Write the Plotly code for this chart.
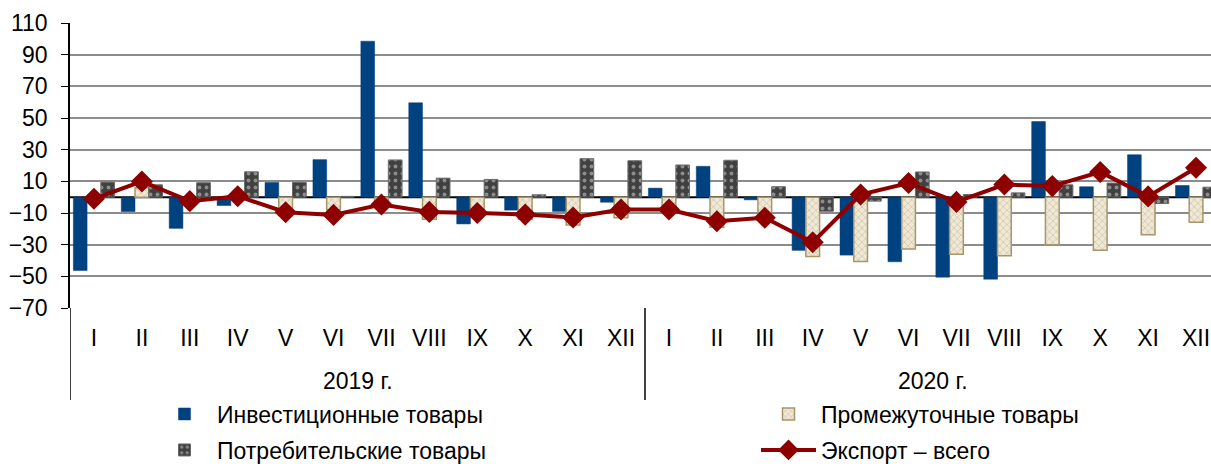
import plotly.graph_objects as go

months = ["I", "II", "III", "IV", "V", "VI", "VII", "VIII", "IX", "X", "XI", "XII"]
years = ["2019 г.", "2020 г."]

investment = [-46.3, -9.1, -19.7, -5.3, 9.3, 23.7, 98.5, 59.6, -16.9, -8.2, -9.0, -3.2,
              5.7, 19.5, -1.7, -33.6, -36.6, -40.8, -50.5, -51.8, 47.8, 6.6, 26.8, 7.4]
intermediate = [-0.5, 6.0, -2.0, -1.0, -8.0, -8.0, -5.0, -14.0, -11.0, -14.0, -17.5, -13.0,
                -7.0, -19.0, -10.0, -37.4, -40.6, -32.8, -36.0, -37.0, -30.0, -33.6, -23.7, -15.9]
consumer = [9.5, 7.8, 9.1, 16.0, 9.3, 0.5, 23.5, 12.0, 11.2, 1.5, 24.3, 23.0,
            20.3, 23.3, 6.6, -8.9, -2.5, 15.9, 1.7, 2.7, 7.8, 8.9, -4.0, 6.3]
export_total = [-1.0, 9.9, -2.5, 0.6, -9.5, -11.2, -4.6, -9.3, -10.0, -11.0, -12.8, -7.8,
                -7.8, -15.2, -13.0, -28.5, 1.7, 8.9, -3.0, 8.0, 7.0, 15.9, 0.5, 18.6]

names = ["Инвестиционные товары", "Промежуточные товары",
         "Потребительские товары", "Экспорт – всего"]

tick_labels = [m for _ in years for m in months]
xs = list(range(len(tick_labels)))
n_m = len(months)

FONT = "Liberation Sans, Arial, sans-serif"
W, H = 1220, 464
ML, MR, MT, MB = 70, 0, 23, 156
plot_h = H - MT - MB

def py(pix):
    # pixel row -> paper y
    return (H - MB - pix) / plot_h

fig = go.Figure()
fig.add_trace(go.Bar(
    x=xs, y=investment, name=names[0], legend="legend",
    marker=dict(color="#00417F", line=dict(color="#00417F", width=0.5)),
))
fig.add_trace(go.Bar(
    x=xs, y=intermediate, name=names[1], legend="legend2",
    marker=dict(color="#EFE8D6", line=dict(color="#A8966A", width=1.5),
                pattern=dict(shape="x", fgcolor="#B8A882", size=5, solidity=0.3)),
))
fig.add_trace(go.Bar(
    x=xs, y=consumer, name=names[2], legend="legend3",
    marker=dict(color="#404040", line=dict(color="#6A6A6A", width=1),
                pattern=dict(shape=".", fgcolor="#D8D8D8", bgcolor="#404040", size=7, solidity=0.25)),
))
fig.add_trace(go.Scatter(
    x=xs, y=export_total, name=names[3], mode="lines+markers", legend="legend4",
    line=dict(color="#8E0000", width=4),
    marker=dict(symbol="diamond", size=17, color="#8E0000"),
))

def leg(xpix, ypix):
    return dict(xref="container", yref="container", x=xpix / W, y=1 - ypix / H,
                xanchor="left", yanchor="middle", orientation="h",
                font=dict(family=FONT, size=23, color="black"),
                itemwidth=55, bgcolor="rgba(0,0,0,0)", borderwidth=0)

fig.update_layout(
    width=W, height=H,
    margin=dict(l=ML, r=MR, t=MT, b=MB, autoexpand=False),
    paper_bgcolor="white", plot_bgcolor="white",
    barmode="group", bargap=0.14, bargroupgap=0,
    font=dict(family=FONT, size=23, color="black"),
    showlegend=True,
    legend=leg(152, 414),
    legend2=leg(756, 414),
    legend3=leg(152, 450),
    legend4=leg(756, 450),
)
fig.update_xaxes(
    range=[-0.5, len(xs) - 0.5],
    tickvals=xs, ticktext=tick_labels,
    showline=False, showgrid=False, zeroline=False, ticks="",
    tickfont=dict(size=23), ticklabelstandoff=14,
)
fig.update_yaxes(
    range=[-70, 110], dtick=20, tick0=-70,
    showgrid=True, gridcolor="#8C8C8C", gridwidth=1.5,
    showline=True, linecolor="black", linewidth=1.5,
    ticks="outside", ticklen=7, tickcolor="black",
    zeroline=False, tickfont=dict(size=23), ticklabelstandoff=9,
)
fig.add_hline(y=0, line=dict(color="black", width=2), layer="below")

# group dividers and year labels
for i in range(len(years)):
    x0 = i * n_m - 0.5
    fig.add_shape(type="line", xref="x", yref="paper", x0=x0, x1=x0,
                  y0=0, y1=py(400), line=dict(color="black", width=1.5))
    fig.add_annotation(xref="x", yref="paper", x=i * n_m + (n_m - 1) / 2, y=py(381),
                       text=years[i], showarrow=False, yanchor="middle",
                       font=dict(size=23, color="black"))

fig.write_html("out.html", config={"displayModeBar": False},
               post_script="document.body.style.margin='0px';document.body.style.overflow='hidden';")
